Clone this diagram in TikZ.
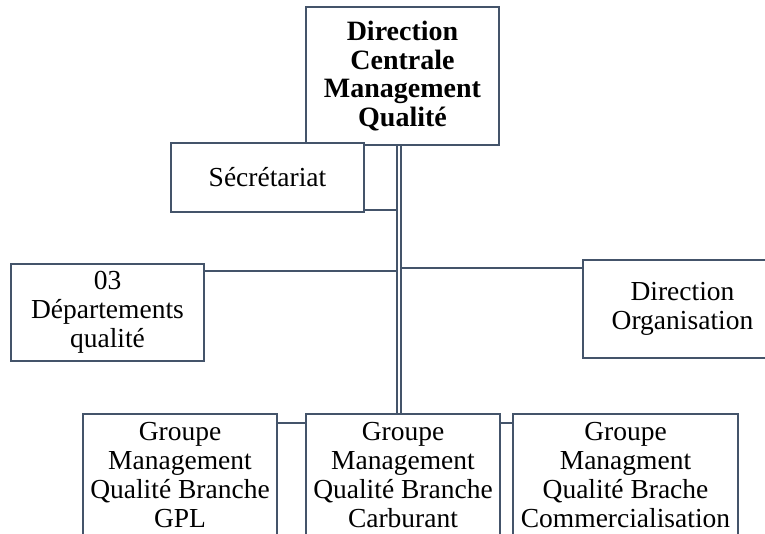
\documentclass[tikz,border=0pt]{standalone}
\usepackage{fontspec}
\setmainfont{Liberation Serif}
\usepackage{tikz}
\usetikzlibrary{positioning,calc}
\definecolor{slate}{HTML}{44546A}
\tikzset{
  unit/.style={draw=slate,fill=white,line width=2.2pt,rectangle,inner sep=0pt,
    align=center,font=\fontsize{27.5}{28.8}\selectfont},
  head/.style={unit,font=\fontsize{28}{28.6}\selectfont\bfseries},
  link/.style={draw=slate,line width=2.2pt},
  trunk/.style={draw=slate,line width=2.2pt,double=white,double distance=2.2pt},
}
\begin{document}
\begin{tikzpicture}[x=1pt,y=-1pt]
  \clip (0,0) rectangle (765,534);
  % pixel-grid layout
  \coordinate (trk) at (399,0);
  \coordinate (jSec) at (397,210);
  \coordinate (jDep) at (397,271);
  \coordinate (jOrg) at (401,268);
  \coordinate (jGrp) at (0,423);
  \node[head,minimum width=193pt,minimum height=138pt] (top) at (402.5,76)
    {Direction\\Centrale\\Management\\Qualité};
  \node[unit,minimum width=193pt,minimum height=69pt] (sec) at (267.5,177.5)
    {Sécrétariat};
  \node[unit,minimum width=193pt,minimum height=97pt] (dept) at (107.5,312.5)
    {03\\Départements\\qualité};
  \node[unit,minimum width=199pt,minimum height=98pt] (dorg) at (682.5,309)
    {Direction\\Organisation};
  \node[unit,minimum width=194pt,minimum height=122pt] (grpA) at (180,475)
    {Groupe\\Management\\Qualité Branche\\GPL};
  \node[unit,minimum width=194pt,minimum height=122pt] (grpB) at (403,475)
    {Groupe\\Management\\Qualité Branche\\Carburant};
  \node[unit,minimum width=225pt,minimum height=122pt] (grpC) at (625.5,475)
    {Groupe\\Managment\\Qualité Brache\\Commercialisation};
  % connectors
  \draw[trunk] (top.south -| trk) -- (grpB.north -| trk);
  \draw[link] (sec.east |- jSec) -- (jSec);
  \draw[link] (dept.east |- jDep) -- (jDep);
  \draw[link] (jOrg) -- (jOrg -| dorg.west);
  \draw[link] (grpA.east |- jGrp) -- (grpB.west |- jGrp);
  \draw[link] (grpB.east |- jGrp) -- (grpC.west |- jGrp);
\end{tikzpicture}
\end{document}
